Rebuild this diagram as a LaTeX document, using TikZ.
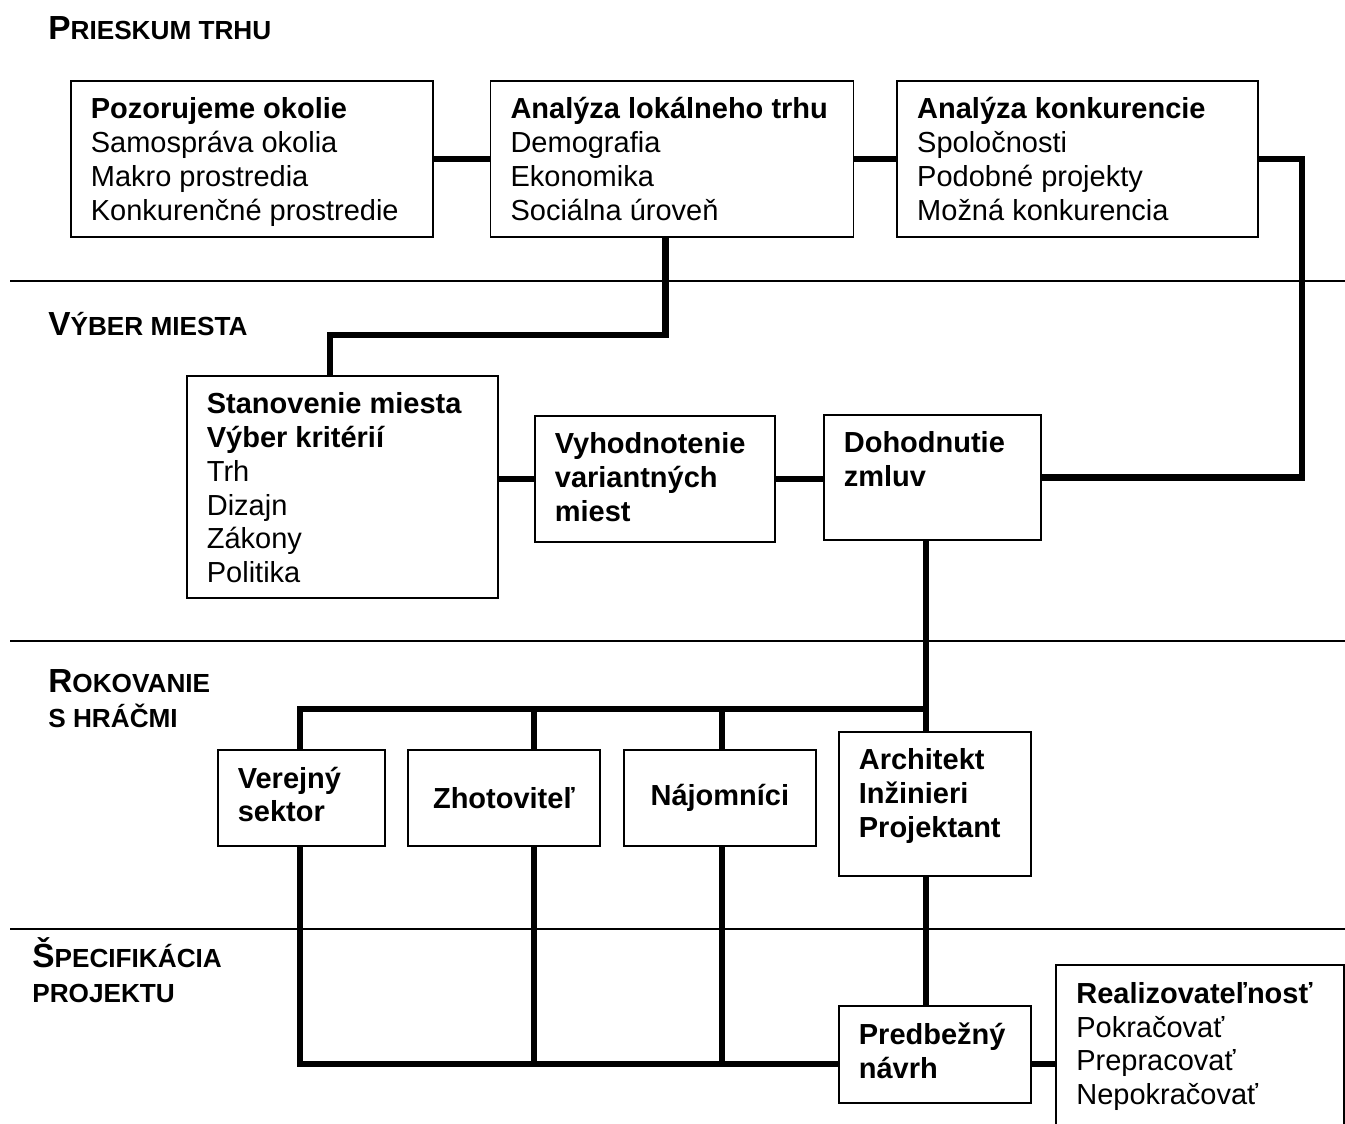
\documentclass[tikz,border=0pt]{standalone}
\usepackage{fontspec}
\setmainfont{Liberation Sans}
\usetikzlibrary{positioning}

% text of a box, set at its top left
\newcommand{\boxtxt}[3]{\parbox[t][\dimexpr #2-19.2pt\relax][t]{\dimexpr #1-0.8cm\relax}{\raggedright\rule{0pt}{12pt}#3}}
% small capitals made by hand
\newcommand{\phasecap}[1]{{\fontsize{19}{19.9}\selectfont #1}}

\tikzset{
    stepbox/.style={draw, line width=1pt, anchor=north west,
        inner xsep=0.4cm, inner ysep=9.6pt,
        font=\fontsize{16.5}{19.2}\selectfont},
    openbox/.style={anchor=north west,
        inner xsep=0.4cm, inner ysep=9.6pt,
        font=\fontsize{16.5}{19.2}\selectfont},
    actorbox/.style={draw, line width=1pt, anchor=north west,
        inner sep=0pt, font=\fontsize{16.5}{19.2}\selectfont\bfseries},
    phase/.style={anchor=base west, align=left, inner sep=0pt,
        font=\bfseries\fontsize{14.9}{19.9}\selectfont},
    link/.style={line width=3.6pt},
    divider/.style={line width=1pt}
}

\begin{document}
\begin{tikzpicture}[x=0.02cm, y=-0.02cm]
    \useasboundingbox (0,0) rectangle (1345,1124);

    % Phases (two-line ones sit on their last line)
    \node [phase] (phase1) at (48,40) {\phasecap{P}RIESKUM TRHU};
    \node [phase] (phase2) at (48,336) {\phasecap{V}ÝBER MIESTA};
    \node [phase] (phase3) at (48,727) {\phasecap{R}OKOVANIE\\S HRÁČMI};
    \node [phase] (phase4) at (32,1002) {\phasecap{Š}PECIFIKÁCIA\\PROJEKTU};
    \draw [divider] (10,281) -- (1345,281);
    \draw [divider] (10,641) -- (1345,641);
    \draw [divider] (10,929) -- (1345,929);

    % Market research
    \node [stepbox] (okolie) at (70,80)
        {\boxtxt{7.24cm}{3.12cm}{\textbf{Pozorujeme okolie}\\Samospráva okolia\\Makro prostredia\\Konkurenčné prostredie}};
    \node [stepbox,
        anchor=west,
        right=1.12cm of okolie
    ] (lokal)
        {\boxtxt{7.26cm}{3.12cm}{\textbf{Analýza lokálneho trhu}\\Demografia\\Ekonomika\\Sociálna úroveň}};
    \node [stepbox,
        anchor=west,
        right=0.84cm of lokal
    ] (konk)
        {\boxtxt{7.22cm}{3.12cm}{\textbf{Analýza konkurencie}\\Spoločnosti\\Podobné projekty\\Možná konkurencia}};

    % Site selection
    \node [stepbox] (miesto) at (186,375)
        {\boxtxt{6.22cm}{4.44cm}{\textbf{Stanovenie miesta}\\\textbf{Výber kritérií}\\Trh\\Dizajn\\Zákony\\Politika}};
    \node [stepbox] (vyhod) at (534,415)
        {\boxtxt{4.8cm}{2.52cm}{\textbf{Vyhodnotenie}\\\textbf{variantných}\\\textbf{miest}}};
    \node [stepbox] (zmluvy) at (823,414)
        {\boxtxt{4.34cm}{2.5cm}{\textbf{Dohodnutie}\\\textbf{zmluv}}};

    % Players
    \node [stepbox] (verejny) at (217,749)
        {\boxtxt{3.34cm}{1.92cm}{\textbf{Verejný}\\\textbf{sektor}}};
    \node [actorbox,
        minimum width=3.84cm,
        minimum height=1.92cm
    ] (zhotov) at (407,749) {Zhotoviteľ};
    \node [actorbox,
        minimum width=3.84cm,
        minimum height=1.92cm
    ] (najom) at (623,749) {Nájomníci};
    \node [stepbox] (archit) at (838,731)
        {\boxtxt{3.84cm}{2.88cm}{\textbf{Architekt}\\\textbf{Inžinieri}\\\textbf{Projektant}}};

    % Project specification
    \node [stepbox] (navrh) at (838,1005)
        {\boxtxt{3.84cm}{1.94cm}{\textbf{Predbežný}\\\textbf{návrh}}};
    \node [openbox] (realiz) at (1056,965)
        {\boxtxt{5.74cm}{3.4cm}{\textbf{Realizovateľnosť}\\Pokračovať\\Prepracovať\\Nepokračovať}};
    \draw [line width=1pt] (realiz.south west) |- (realiz.north east) -- (realiz.south east);

    % Corners of the connectors
    \coordinate (turn) at (1302,300);
    \coordinate (jog) at (330,335);
    \coordinate (spine) at (926,709);
    \coordinate (busL) at (300,709);
    \coordinate (tapZ) at (534,709);
    \coordinate (tapN) at (722,709);
    \coordinate (busB) at (300,1064);

    % Connectors
    \draw [link] (okolie.east) -- (lokal.west);
    \draw [link] (lokal.east) -- (konk.west);
    \draw [link] (konk.east) -| (turn) |- (zmluvy.east);
    \draw [link] ([xshift=-0.13cm]lokal.south) |- (jog) -- (jog |- miesto.north);
    \draw [link] (miesto.east |- vyhod.west) -- (vyhod.west);
    \draw [link] (vyhod.east) -- (vyhod.east -| zmluvy.west);
    \draw [link] (zmluvy.south -| spine) -- (archit.north -| spine);
    \draw [link] (spine) -- (busL) -- (busL |- verejny.north);
    \draw [link] (tapZ) -- (tapZ |- zhotov.north);
    \draw [link] (tapN) -- (tapN |- najom.north);
    \draw [link] (archit.south -| spine) -- (navrh.north -| spine);
    \draw [link] (busB |- verejny.south) -- (busB) -- (busB -| navrh.west);
    \draw [link] (tapZ |- zhotov.south) -- (tapZ |- busB);
    \draw [link] (tapN |- najom.south) -- (tapN |- busB);
    \draw [link] (navrh.east |- busB) -- (busB -| realiz.west);

\end{tikzpicture}
\end{document}
